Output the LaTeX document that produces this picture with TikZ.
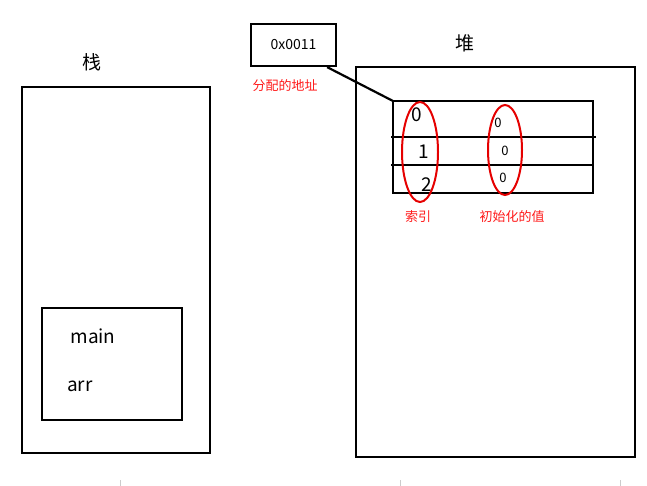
\documentclass[tikz,border=0pt]{standalone}
\usepackage{fontspec}
\setmainfont{Noto Sans CJK SC}
\usetikzlibrary{positioning}
\begin{document}
\begin{tikzpicture}[x=1pt,y=-1pt,
        every path/.style={line width=2.2pt},
        box/.style={draw, line width=2.2pt},
        redring/.style={draw=red!90!black, line width=2pt},
        note/.style={text=red!90!white, font=\fontsize{13}{15}\selectfont},
        lbl/.style={font=\fontsize{19}{21}\selectfont}
    ]
    \useasboundingbox (0,0) rectangle (647,486);

    % Stack
    \draw[box] (22,87) rectangle (210,453);
    \node[lbl] (stack) at (92,62) {栈};
    \draw[box] (42,308) rectangle (182,420);
    \node[lbl] (main) at (93,336) {main};
    \node[lbl] (arr) at (80,386) {arr};

    % Address
    \node[box, minimum width=85pt, minimum height=42pt, font=\fontsize{14}{16}\selectfont] (addr) at (293.5,45) {0x0011};
    \node[note] (addrnote) at (285,86) {分配的地址};

    % Heap
    \draw[box] (356,67) rectangle (635,457);
    \node[lbl] (heap) at (465,43) {堆};
    \draw[box] (393,101) rectangle (593,193);
    \draw (391,137) -- (596,137);
    \draw (391,165) -- (593,165);
    \coordinate (arrtop) at (393,101);
    \draw (addr.south east) ++(-10,0) -- (arrtop);

    % Indices and values
    \node[lbl] (i0) at (417,115) {0};
    \node[lbl] (i1) at (424,152) {1};
    \node[lbl] (i2) at (427,185) {2};
    \node[font=\fontsize{13}{15}\selectfont] (v0) at (498,123) {0};
    \node[font=\fontsize{13}{15}\selectfont] (v1) at (505,151) {0};
    \node[font=\fontsize{13}{15}\selectfont] (v2) at (503,178) {0};
    \draw[redring] (420,152) ellipse (18 and 50);
    \draw[redring] (505,150) ellipse (17 and 45);
    \node[note] (idxnote) at (418,217) {索引};
    \node[note] (valnote) at (512,217) {初始化的值};

    % Marks at the bottom
    \foreach \x in {120,400,620}
        \draw[gray!40, line width=1pt] (\x,480) -- (\x,486);
\end{tikzpicture}
\end{document}
